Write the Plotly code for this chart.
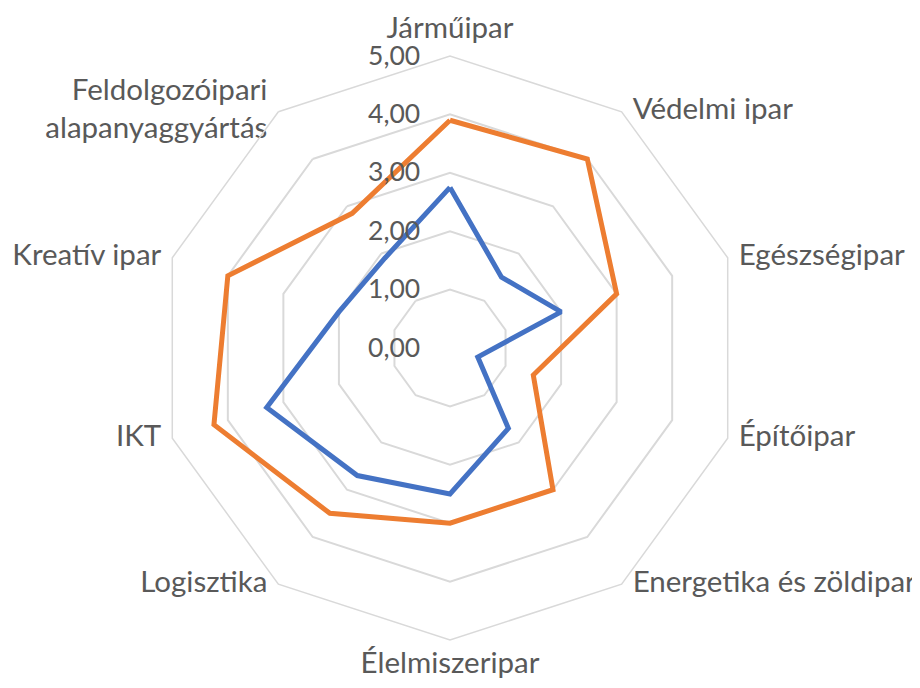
import plotly.graph_objects as go

categories = ["Járműipar", "Védelmi ipar", "Egészségipar", "Építőipar",
              "Energetika és zöldipar", "Élelmiszeripar", "Logisztika", "IKT",
              "Kreatív ipar", "Feldolgozóipari<br>alapanyaggyártás"]
series_blue = [2.75, 1.5, 2.0, 0.5, 1.7, 2.5, 2.7, 3.3, 2.0, 1.9]
series_orange = [3.9, 4.0, 3.0, 1.5, 3.0, 3.0, 3.5, 4.25, 4.0, 2.85]
radial_ticks = [0, 1, 2, 3, 4, 5]

TXT = "#595959"
FONT = "Lato"
R_MAX = 5
label_pos = ["top center", "middle right", "middle right", "middle right",
             "middle right", "bottom center", "middle left", "middle left",
             "middle left", "middle left"]

def closed(v):
    return list(v) + [v[0]]

fig = go.Figure()
fig.add_trace(go.Scatterpolar(r=closed(series_blue), theta=closed(categories),
                              mode="lines", line=dict(color="#4472C4", width=5),
                              showlegend=False, hoverinfo="skip"))
fig.add_trace(go.Scatterpolar(r=closed(series_orange), theta=closed(categories),
                              mode="lines", line=dict(color="#ED7D31", width=5),
                              showlegend=False, hoverinfo="skip"))
# category labels, placed through the polar scale at the outer ring
fig.add_trace(go.Scatterpolar(r=[R_MAX] * len(categories), theta=categories,
                              mode="markers+text", text=categories,
                              textposition=label_pos,
                              marker=dict(size=16, color="rgba(0,0,0,0)"),
                              textfont=dict(size=29.5, color=TXT, family=FONT),
                              cliponaxis=False, showlegend=False, hoverinfo="skip"))

fig.update_layout(
    width=920, height=688,
    margin=dict(l=0, r=36, t=48, b=56),
    paper_bgcolor="white", plot_bgcolor="white",
    separators=", ",
    font=dict(family=FONT, color=TXT, size=28),
    polar=dict(
        bgcolor="white",
        gridshape="linear",
        radialaxis=dict(range=[0, R_MAX], tickvals=radial_ticks, tickformat=".2f",
                        angle=90, tickangle=90, side="counterclockwise",
                        showline=False, ticks="outside", ticklen=20,
                        tickcolor="rgba(0,0,0,0)",
                        gridcolor="#D9D9D9", gridwidth=1.5,
                        tickfont=dict(size=26.5, color=TXT, family=FONT)),
        angularaxis=dict(direction="clockwise", rotation=90, showgrid=False,
                         showline=True, linecolor="#D9D9D9", linewidth=1.5,
                         showticklabels=False, ticks=""),
    ),
)

fig.write_html("out.html")
